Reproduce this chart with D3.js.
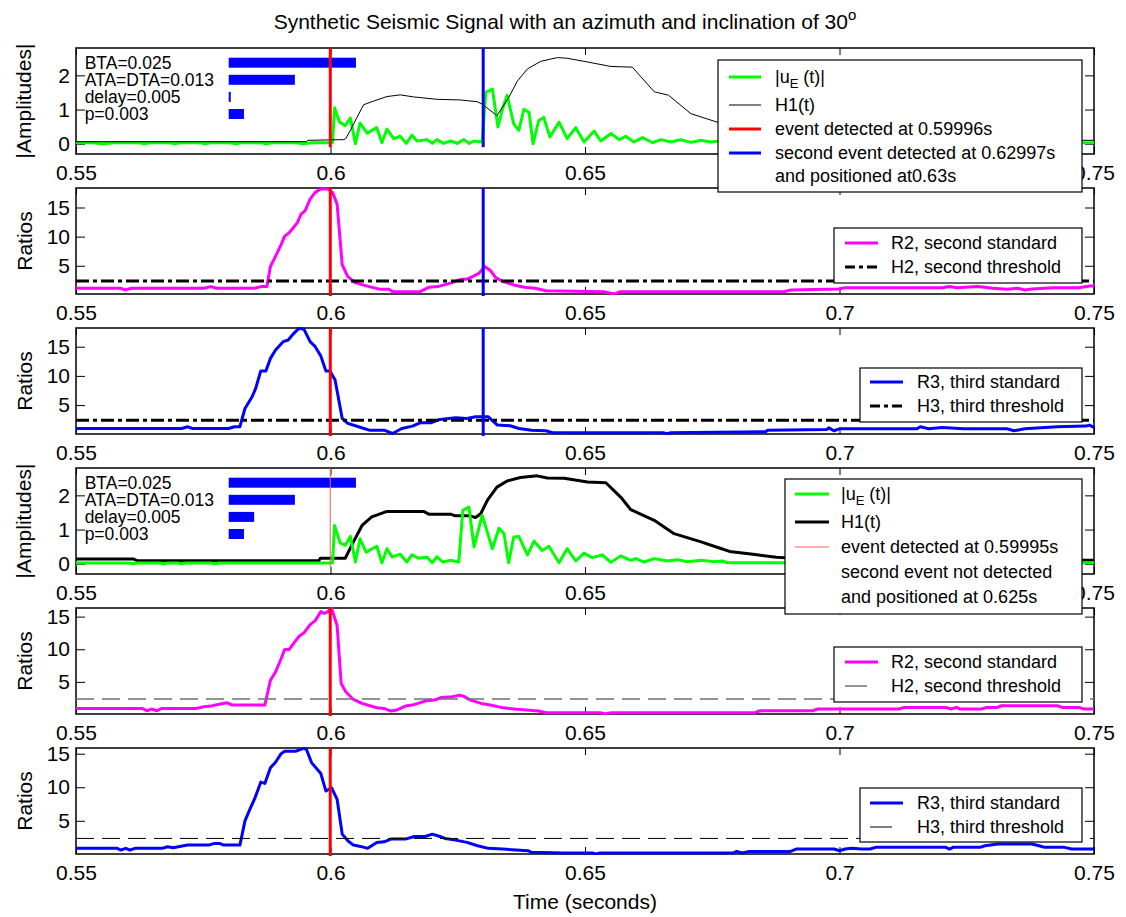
<!DOCTYPE html>
<html><head><meta charset="utf-8">
<script src="https://cdn.jsdelivr.net/npm/d3@7"></script>
<style>body{margin:0;background:#fff}svg{display:block}text{font-family:"Liberation Sans",Arial,Helvetica,sans-serif;fill:#000}</style>
</head><body><svg id="c" width="1126" height="917"></svg>
<script>
// ---------- data ----------
const xTicks=[0.55,0.6,0.65,0.7,0.75];
const xTickLabels=["0.55","0.6","0.65","0.7","0.75"];
const ampTicks=[0,1,2];
const ratioTicks=[5,10,15];
const paramLabels=["BTA=0.025","ATA=DTA=0.013","delay=0.005","p=0.003"];
const paramLevels=[2.37,1.87,1.37,0.87];
const barStart=0.58;
const barWidthsTop=[0.025,0.013,0.0004,0.003];
const barWidthsBottom=[0.025,0.013,0.005,0.003];
const thresholds=[2.4,2.4,2.36,2.37];
const eventTop=0.59996, secondEventTop=0.63, eventBottom=0.59995;

const uE1=[[0.55,0.03],[0.553,0.03],[0.5553,0.0],[0.5575,0.03],[0.5625,0.03],[0.5633,0.0],[0.5645,0.03],[0.5685,0.03],[0.5693,0.0],[0.5705,0.03],[0.5745,0.03],[0.5753,0.0],[0.5765,0.03],[0.5805,0.03],[0.5813,0.0],[0.5825,0.03],[0.5865,0.03],[0.5873,0.0],[0.5885,0.03],[0.5935,0.03],[0.5945,0.0],[0.5965,0.03],[0.6,0.03],
[0.6004,0.03],[0.6008,1.05],[0.6018,0.63],[0.6029,0.53],[0.6039,0.75],[0.6049,0.0],[0.6058,0.6],[0.6072,0.31],[0.6091,0.47],[0.6101,0.03],[0.6111,0.43],[0.6124,0.15],[0.6137,0.22],[0.6149,0.01],[0.6160,0.25],[0.6170,0.08],[0.6190,0.12],[0.6200,0.01],[0.6209,0.12],[0.6222,0.01],[0.6236,0.08],[0.6249,0.01],[0.6262,0.12],[0.6272,0.01],[0.6282,0.08],[0.6298,0.05],
[0.6305,1.5],[0.6318,1.6],[0.6329,0.49],[0.6337,0.97],[0.6347,1.42],[0.6360,0.58],[0.6370,0.39],[0.6380,1.01],[0.6390,0.92],[0.6398,0.0],[0.6409,0.68],[0.6419,0.77],[0.6431,0.20],[0.6449,0.63],[0.6465,0.15],[0.6482,0.47],[0.6498,0.05],[0.6518,0.37],[0.6531,0.08],[0.6551,0.30],[0.6567,0.12],[0.6580,0.22],[0.6596,0.05],[0.6613,0.18],[0.6633,0.03],[0.6649,0.12],[0.6669,0.05],[0.6688,0.12],[0.6708,0.04],[0.6728,0.10],[0.6747,0.05],[0.6767,0.08],[0.679,0.04],[0.681,0.06],[0.683,0.03],[0.75,0.03]];
const H1a=[[0.55,0.06],[0.5953,0.06],[0.5955,0.1],[0.6026,0.12],[0.6030,0.15],[0.6039,0.39],[0.6052,0.77],[0.6065,1.14],[0.6085,1.25],[0.6111,1.38],[0.6137,1.43],[0.6163,1.37],[0.6209,1.30],[0.6255,1.28],[0.6288,1.23],[0.6298,1.16],[0.6327,0.82],[0.6350,1.35],[0.6367,1.83],[0.6387,2.19],[0.6413,2.41],[0.6446,2.52],[0.6465,2.50],[0.6498,2.41],[0.6551,2.26],[0.6593,2.24],[0.6636,1.52],[0.6664,1.42],[0.6708,0.88],[0.6762,0.62],[0.680,0.48],[0.685,0.32],[0.69,0.22],[0.695,0.16],[0.70,0.12],[0.75,0.1]];
const R2a=[[0.55,1.13],[0.5588,1.13],[0.5596,0.84],[0.5609,1.13],[0.5751,1.13],[0.5765,1.42],[0.5776,1.13],[0.5850,1.13],[0.5864,1.42],[0.5875,1.42],[0.5882,4.88],[0.5892,6.62],[0.5903,8.64],[0.5910,10.09],[0.5919,10.66],[0.5935,12.40],[0.5942,13.84],[0.5950,14.42],[0.5960,16.45],[0.5970,17.60],[0.5981,18.18],[0.5995,18.18],[0.6004,17.60],[0.6013,15.58],[0.6023,5.17],[0.6034,3.15],[0.6048,2.11],[0.6076,1.42],[0.6098,0.95],[0.6115,0.95],[0.6122,0.55],[0.6176,0.55],[0.6193,1.30],[0.6211,1.42],[0.6239,2.11],[0.6257,2.69],[0.6268,2.69],[0.6282,3.27],[0.6292,3.73],[0.6303,4.88],[0.6314,4.19],[0.6324,3.03],[0.6339,2.28],[0.6360,1.71],[0.6381,1.30],[0.6402,1.13],[0.6423,0.72],[0.6537,0.55],[0.6558,0.16],[0.6569,0.55],[0.6890,0.55],[0.6905,0.84],[0.70,1.01],[0.7011,1.24],[0.7202,1.24],[0.7216,1.42],[0.7230,1.24],[0.7272,1.42],[0.7301,1.13],[0.7329,0.95],[0.7350,1.13],[0.7364,0.84],[0.7378,1.01],[0.7420,1.24],[0.7470,1.24],[0.7491,1.53],[0.75,1.53]];
const R3a=[[0.55,1.0],[0.5708,1.0],[0.5719,1.29],[0.5729,1.0],[0.5800,1.0],[0.5811,1.29],[0.5822,1.29],[0.5832,4.43],[0.5846,6.43],[0.5853,7.86],[0.5863,10.83],[0.5873,10.83],[0.5882,13.0],[0.5892,14.43],[0.5907,15.86],[0.5917,16.14],[0.5928,17.29],[0.5938,18.14],[0.5948,17.97],[0.5960,15.86],[0.5970,15.0],[0.5981,13.4],[0.5991,10.83],[0.5999,10.83],[0.6009,9.29],[0.6023,2.71],[0.6034,1.86],[0.6055,1.29],[0.6076,0.71],[0.6105,0.71],[0.6122,0.14],[0.6140,1.0],[0.6161,1.4],[0.6176,1.97],[0.6197,1.97],[0.6215,2.54],[0.6246,2.83],[0.6268,2.71],[0.6285,3.0],[0.6310,3.0],[0.6328,1.57],[0.6353,1.46],[0.6370,1.0],[0.6395,0.71],[0.6423,0.6],[0.6438,0.25],[0.6655,0.25],[0.6661,0.1],[0.6667,0.25],[0.6855,0.43],[0.6859,0.71],[0.6975,0.83],[0.6979,1.1],[0.6989,0.6],[0.70,0.94],[0.7152,0.94],[0.7159,1.29],[0.7175,0.94],[0.7202,1.17],[0.7244,0.94],[0.7329,0.94],[0.7343,0.6],[0.7364,0.94],[0.7428,1.29],[0.7484,1.4],[0.7491,1.57],[0.75,1.17]];
const uE2=[[0.55,0.02],[0.5605,0.02],[0.5612,0.0],[0.562,0.02],[0.5665,0.02],[0.5672,0.0],[0.568,0.02],[0.5700,0.02],[0.5707,0.0],[0.5715,0.02],[0.5765,0.02],[0.5772,0.0],[0.578,0.02],[0.6,0.02],
[0.6004,0.03],[0.6008,1.12],[0.6019,0.61],[0.6029,0.54],[0.6039,0.80],[0.6049,0.05],[0.6058,0.73],[0.6070,0.34],[0.6091,0.51],[0.6101,0.03],[0.6111,0.44],[0.6121,0.20],[0.6137,0.28],[0.6150,0.05],[0.6160,0.26],[0.6173,0.16],[0.6190,0.19],[0.6200,0.03],[0.6209,0.20],[0.6221,0.05],[0.6236,0.10],[0.6252,0.05],[0.6260,1.56],[0.6272,1.66],[0.6282,0.49],[0.6298,1.42],[0.6318,0.44],[0.6331,1.04],[0.6341,0.88],[0.6350,0.03],[0.6360,0.78],[0.6370,0.80],[0.6387,0.26],[0.6400,0.66],[0.6416,0.39],[0.6429,0.51],[0.6449,0.03],[0.6465,0.44],[0.6482,0.08],[0.6498,0.31],[0.6514,0.18],[0.6534,0.26],[0.6551,0.04],[0.6570,0.23],[0.6590,0.10],[0.6600,0.15],[0.6616,0.05],[0.6636,0.15],[0.6662,0.08],[0.6682,0.12],[0.6701,0.06],[0.6728,0.10],[0.6754,0.06],[0.6770,0.08],[0.678,0.03],[0.75,0.03]];
const H1b=[[0.55,0.14],[0.5612,0.14],[0.562,0.09],[0.5977,0.09],[0.598,0.16],[0.6029,0.16],[0.6045,0.64],[0.6062,1.12],[0.6081,1.37],[0.6111,1.53],[0.6183,1.53],[0.6193,1.45],[0.6236,1.45],[0.6245,1.40],[0.6275,1.40],[0.6285,1.35],[0.6295,1.46],[0.6308,1.85],[0.6327,2.24],[0.6347,2.42],[0.6373,2.52],[0.6406,2.57],[0.6426,2.51],[0.6459,2.50],[0.6505,2.39],[0.6541,2.37],[0.6570,1.95],[0.6590,1.58],[0.6636,1.27],[0.6675,0.88],[0.6728,0.64],[0.6764,0.46],[0.6784,0.36],[0.6834,0.27],[0.6876,0.19],[0.695,0.13],[0.70,0.1],[0.75,0.1]];
const R2b=[[0.55,0.94],[0.5630,0.94],[0.5639,0.58],[0.5648,0.84],[0.5659,0.58],[0.5669,0.94],[0.5737,0.94],[0.5751,1.19],[0.5765,1.29],[0.5779,1.55],[0.5797,1.80],[0.5807,1.45],[0.5871,1.45],[0.5882,5.25],[0.5892,6.52],[0.5903,8.55],[0.5910,9.97],[0.5919,9.97],[0.5928,10.94],[0.5938,11.95],[0.5949,12.61],[0.5960,13.78],[0.5970,14.39],[0.5981,15.76],[0.5988,15.5],[0.5995,15.76],[0.6002,16.3],[0.6013,13.63],[0.6021,4.75],[0.6030,3.48],[0.6045,2.31],[0.6062,1.70],[0.6091,1.04],[0.6105,0.94],[0.6119,0.53],[0.6130,0.69],[0.6147,1.29],[0.6161,1.45],[0.6186,2.06],[0.6204,2.21],[0.6218,2.61],[0.6239,2.72],[0.6254,2.97],[0.6261,2.82],[0.6275,2.21],[0.6296,1.70],[0.6314,1.45],[0.6335,1.09],[0.6367,0.79],[0.6409,0.53],[0.6423,0.28],[0.6530,0.28],[0.6540,0.1],[0.6551,0.28],[0.6834,0.28],[0.6844,0.58],[0.6947,0.58],[0.6958,0.84],[0.7117,0.84],[0.7127,1.09],[0.7209,1.09],[0.7219,0.84],[0.7230,1.09],[0.7237,0.84],[0.7279,0.84],[0.7290,1.09],[0.7311,1.09],[0.7318,1.35],[0.7428,1.35],[0.7438,1.09],[0.7470,1.09],[0.7481,0.84],[0.75,0.84]];
const R3b=[[0.55,0.89],[0.5581,0.89],[0.5588,0.64],[0.5598,0.89],[0.5606,0.64],[0.5616,0.89],[0.5669,0.89],[0.5680,1.13],[0.5691,0.98],[0.5701,1.13],[0.5719,1.38],[0.5761,1.38],[0.5772,1.63],[0.5782,1.63],[0.5790,1.38],[0.5822,1.38],[0.5832,4.99],[0.5843,6.96],[0.5851,8.29],[0.5863,10.76],[0.5871,10.57],[0.5882,12.89],[0.5892,13.73],[0.5903,15.01],[0.5910,15.36],[0.5931,15.36],[0.5948,15.85],[0.5953,15.6],[0.5963,13.63],[0.5981,12.05],[0.5991,9.43],[0.6002,9.93],[0.6013,8.2],[0.6023,3.01],[0.6034,2.02],[0.6045,1.38],[0.6059,1.18],[0.6073,0.89],[0.6091,1.78],[0.6105,1.87],[0.6119,2.27],[0.6147,2.27],[0.6165,2.66],[0.6186,2.66],[0.6200,3.01],[0.6215,2.66],[0.6225,2.37],[0.6246,2.12],[0.6268,1.78],[0.6289,1.28],[0.6310,0.89],[0.6338,0.79],[0.6388,0.54],[0.6395,0.3],[0.6457,0.2],[0.6515,0.2],[0.6521,0.06],[0.6530,0.2],[0.6791,0.2],[0.6798,0.44],[0.6809,0.2],[0.6823,0.44],[0.6904,0.44],[0.6915,0.79],[0.6989,0.79],[0.70,0.54],[0.7011,0.79],[0.7025,0.89],[0.7042,0.79],[0.7060,0.79],[0.7071,1.04],[0.7209,1.04],[0.7216,0.79],[0.7223,1.04],[0.7276,1.04],[0.7286,1.28],[0.7311,1.53],[0.7378,1.53],[0.7392,1.28],[0.7403,1.04],[0.7442,1.04],[0.7456,0.79],[0.75,0.79]];

const legendTopLabels=["|u","E"," (t)|","H1(t)","event detected at 0.59996s","second event detected at 0.62997s","and positioned at0.63s"];
const legendR2Labels=["R2, second standard","H2, second threshold"];
const legendR3Labels=["R3, third standard","H3, third threshold"];
const legendBottomLabels=["H1(t)","event detected at 0.59995s","second event not detected","and positioned at 0.625s"];
const titleText="Synthetic Seismic Signal with an azimuth and inclination of 30";

// ---------- drawing ----------
const svg=d3.select('#c');
const L=76,R=1094,PH=106;
const tops=[48,188,328,468,608,748];
const ylims=[[-0.3,2.8],[0.15,18.35],[0.05,18.2],[-0.3,2.8],[0.08,16.32],[0.05,15.85]];
const x=d3.scaleLinear().domain([0.55,0.75]).range([L,R]);
const FONT='"Liberation Sans",Arial,Helvetica,sans-serif';
const GREEN='#00ff00',MAG='#ff00ff',BLUE='#0000ff',RED='#ff0000';

function styleAxis(sel){
  sel.select('.domain').remove();
  sel.selectAll('text').attr('font-family',FONT).attr('font-size',21).attr('fill','#000');
  sel.selectAll('line').attr('stroke','#000').attr('stroke-width',1);
}
function makePanel(i,yTicks,ylab,ylabX){
  const top=tops[i],bot=top+PH;
  const y=d3.scaleLinear().domain(ylims[i]).range([bot,top]);
  const g=svg.append('g');
  g.append('rect').attr('x',L).attr('y',top).attr('width',R-L).attr('height',PH).attr('fill','#fff');
  g.append('g').attr('transform',`translate(0,${bot})`).call(d3.axisBottom(x).tickValues(xTicks).tickFormat((d,k)=>xTickLabels[k]).tickSize(-7).tickPadding(11)).call(styleAxis);
  g.append('g').attr('transform',`translate(0,${top})`).call(d3.axisTop(x).tickValues(xTicks).tickFormat('').tickSize(-7)).call(styleAxis);
  g.append('g').attr('transform',`translate(${L},0)`).call(d3.axisLeft(y).tickValues(yTicks).tickFormat(d3.format('d')).tickSize(-9).tickPadding(6)).call(styleAxis);
  g.append('g').attr('transform',`translate(${R},0)`).call(d3.axisRight(y).tickValues(yTicks).tickFormat('').tickSize(-9)).call(styleAxis);
  g.append('rect').attr('x',L).attr('y',top).attr('width',R-L).attr('height',PH).attr('fill','none').attr('stroke','#000').attr('stroke-width',1.5);
  g.append('text').attr('transform',`translate(${ylabX},${top+PH/2}) rotate(-90)`).attr('text-anchor','middle').attr('dominant-baseline','central').attr('font-size',21).text(ylab);
  svg.append('clipPath').attr('id','cp'+i).append('rect').attr('x',L-1).attr('y',top-1).attr('width',R-L+4).attr('height',PH+2);
  const plot=g.append('g').attr('clip-path',`url(#cp${i})`);
  return {g,plot,y,top,bot};
}
function drawLine(p,data,color,w,dash){
  const line=d3.line().x(d=>x(d[0])).y(d=>p.y(d[1]));
  const path=p.plot.append('path').datum(data).attr('d',line).attr('fill','none').attr('stroke',color).attr('stroke-width',w).attr('stroke-linejoin','round');
  if(dash) path.attr('stroke-dasharray',dash);
  return path;
}
function hLine(p,v,color,w,dash){
  return drawLine(p,[[0.55,v],[0.75,v]],color,w,dash);
}
function vLine(p,t,color,w,fromV,extra){
  const y0=fromV===null?p.bot+extra:p.y(fromV);
  p.g.append('line').attr('x1',x(t)).attr('x2',x(t)).attr('y1',y0).attr('y2',p.top).attr('stroke',color).attr('stroke-width',w);
}
function params(p,widths){
  paramLabels.forEach((lab,k)=>{
    p.g.append('text').attr('x',x(0.5517)).attr('y',p.y(paramLevels[k])).attr('dominant-baseline','central').attr('font-size',17.5).text(lab);
    p.g.append('rect').attr('x',x(barStart)).attr('y',p.y(paramLevels[k])-5).attr('width',Math.max(1.5,x(barStart+widths[k])-x(barStart))).attr('height',10).attr('fill',BLUE);
  });
}

// Title
const tt=svg.append('text').attr('x',565).attr('y',29).attr('text-anchor','middle').attr('font-size',21).text(titleText);
tt.append('tspan').attr('font-size',15).attr('dy',-9).text('o');

// Panel 1
const p1=makePanel(0,ampTicks,'|Amplitudes|',23);
drawLine(p1,uE1,GREEN,3);
drawLine(p1,H1a,'#000',1);
params(p1,barWidthsTop);
vLine(p1,eventTop,RED,3,-0.1,0);
vLine(p1,secondEventTop,BLUE,3,-0.1,0);

// Panel 2
const p2=makePanel(1,ratioTicks,'Ratios',24);
drawLine(p2,R2a,MAG,3);
hLine(p2,thresholds[0],'#000',3,'13,4,4,4');
vLine(p2,eventTop,RED,3,null,2);
vLine(p2,secondEventTop,BLUE,3,null,2);

// Panel 3
const p3=makePanel(2,ratioTicks,'Ratios',24);
drawLine(p3,R3a,BLUE,3);
hLine(p3,thresholds[1],'#000',3,'13,4,4,4');
vLine(p3,eventTop,RED,3,null,2);
vLine(p3,secondEventTop,BLUE,3,null,2);

// Panel 4
const p4=makePanel(3,ampTicks,'|Amplitudes|',23);
drawLine(p4,H1b,'#000',3);
drawLine(p4,uE2,GREEN,3);
params(p4,barWidthsBottom);
vLine(p4,eventBottom,'#ff5a5a',1,-0.1,0);

// Panel 5
const p5=makePanel(4,ratioTicks,'Ratios',24);
drawLine(p5,R2b,MAG,3);
hLine(p5,thresholds[2],'#707070',1.5,'18,8');
vLine(p5,eventBottom,RED,3,null,2);

// Panel 6
const p6=makePanel(5,ratioTicks,'Ratios',24);
drawLine(p6,R3b,BLUE,3);
hLine(p6,thresholds[3],'#000',1,'18,8');
vLine(p6,eventBottom,RED,3,null,2);

// x label
svg.append('text').attr('x',(L+R)/2).attr('y',909).attr('text-anchor','middle').attr('font-size',21).text('Time (seconds)');

// Legends
function legendBox(x0,y0,w,h,sx0,sx1,tx,rows){
  const g=svg.append('g');
  g.append('rect').attr('x',x0).attr('y',y0).attr('width',w).attr('height',h).attr('fill','#fff').attr('stroke','#000').attr('stroke-width',1.2);
  rows.forEach(r=>{
    if(r.color){
      const l=g.append('line').attr('x1',sx0).attr('x2',sx1).attr('y1',r.y).attr('y2',r.y).attr('stroke',r.color).attr('stroke-width',r.w);
      if(r.dash) l.attr('stroke-dasharray',r.dash);
    }
    const t=g.append('text').attr('x',tx).attr('y',r.y).attr('dominant-baseline','central').attr('font-size',18);
    if(r.sub){
      t.append('tspan').text(r.sub[0]);
      t.append('tspan').attr('font-size',13).attr('dy',6).text(r.sub[1]);
      t.append('tspan').attr('dy',-6).text(r.sub[2]);
    } else t.text(r.label);
  });
}
legendBox(718,60,364,132,729,761,775,[
  {sub:legendTopLabels.slice(0,3),color:GREEN,w:3,y:77},
  {label:legendTopLabels[3],color:'#000',w:1,y:105},
  {label:legendTopLabels[4],color:RED,w:3,y:129},
  {label:legendTopLabels[5],color:BLUE,w:3,y:153},
  {label:legendTopLabels[6],y:176}]);
legendBox(834,228,248,55,845,878,891,[
  {label:legendR2Labels[0],color:MAG,w:3,y:243},
  {label:legendR2Labels[1],color:'#000',w:3,dash:'10,4,4,4',y:267}]);
legendBox(860,368,222,54,870,903,917,[
  {label:legendR3Labels[0],color:BLUE,w:3,y:382},
  {label:legendR3Labels[1],color:'#000',w:3,dash:'10,4,4,4',y:406}]);
legendBox(785,479,297,135,795,829,841,[
  {sub:legendTopLabels.slice(0,3),color:GREEN,w:3,y:494},
  {label:legendBottomLabels[0],color:'#000',w:3,y:522},
  {label:legendBottomLabels[1],color:'#ff5a5a',w:1,y:547},
  {label:legendBottomLabels[2],y:572},
  {label:legendBottomLabels[3],y:597}]);
legendBox(834,647,248,55,845,878,891,[
  {label:legendR2Labels[0],color:MAG,w:3,y:662},
  {label:legendR2Labels[1],color:'#707070',w:1.5,dash:'22,20',y:686}]);
legendBox(860,788,222,54,870,903,917,[
  {label:legendR3Labels[0],color:BLUE,w:3,y:803},
  {label:legendR3Labels[1],color:'#000',w:1,dash:'22,20',y:827}]);
</script></body></html>
